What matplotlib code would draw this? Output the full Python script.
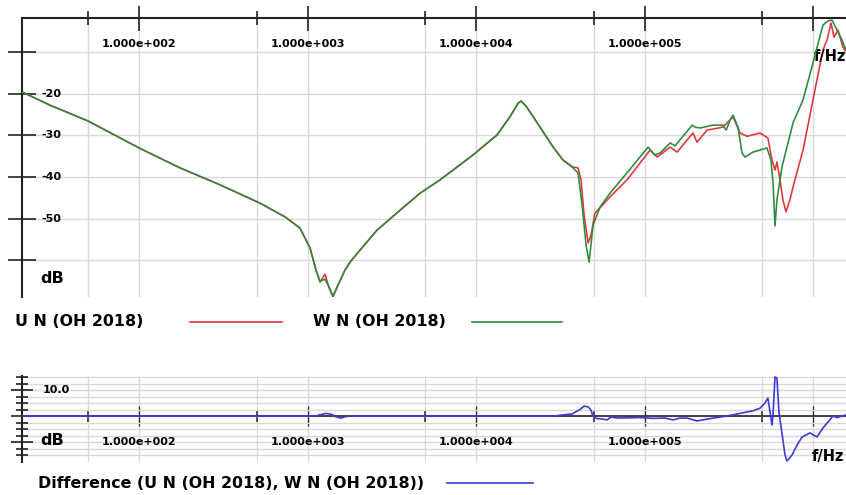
import matplotlib
matplotlib.use("Agg")
import matplotlib.pyplot as plt
from matplotlib.lines import Line2D
from matplotlib.ticker import FixedLocator, NullFormatter
import matplotlib.transforms as mtransforms

# ---------------- data ----------------
# U N (OH 2018): frequency [Hz] / level [dB]
u_freq = [20.2, 29.6, 49.8, 100, 175, 303, 523, 735, 902, 1035, 1122, 1186, 1270, 1342,
          1417, 1517, 1670, 1788, 2050, 2585, 3540, 4656, 6110, 9590, 13300, 15900,
          17800, 18500, 19800, 24000, 28700, 32800, 37600, 40300, 42000, 43800,
          46300, 48100, 50800, 62400, 78700, 108000, 119000, 142000, 156000,
          194000, 205000, 235000, 292000, 335000, 369000, 406000, 485000, 540000,
          571000, 595000, 611000, 637000, 663000, 691000, 730000, 761000, 873000,
          1000000, 1146000, 1211000, 1279000, 1333000, 1407000, 1506000, 1570000]
u_db = [-19.5, -22.7, -26.5, -33.0, -37.8, -41.9, -46.3, -49.6, -52.3, -57.1, -62.4, -65.3,
        -63.4, -66.7, -68.9, -66.0, -62.4, -60.5, -57.6, -52.8, -48.0, -43.9, -40.7,
        -34.7, -29.9, -25.5, -22.2, -21.7, -22.9, -28.0, -32.8, -35.9, -37.6, -37.8,
        -40.7, -49.2, -55.9, -54.0, -48.7, -44.8, -40.7, -33.5, -35.2, -32.8, -34.0,
        -29.4, -31.6, -28.7, -28.0, -25.5, -29.4, -30.2, -29.4, -30.6, -35.9, -38.3,
        -36.4, -40.7, -45.5, -48.4, -45.5, -42.4, -33.5, -21.4, -9.4, -7.0, -2.9,
        -6.3, -4.6, -8.7, -9.9]

# W N (OH 2018): frequency [Hz] / level [dB]
w_freq = [20.2, 29.6, 49.8, 100, 175, 303, 523, 735, 902, 1035, 1122, 1186, 1270, 1342,
          1417, 1517, 1670, 1788, 2050, 2585, 3540, 4656, 6110, 9590, 13300, 15900,
          17800, 18500, 19800, 24000, 28700, 32800, 37600, 40300, 42600, 45000,
          46900, 49500, 54500, 62400, 78700, 94000, 105000, 115000, 124000, 142000,
          152000, 162000, 192000, 200000, 214000, 255000, 292000, 305000, 322000,
          335000, 359000, 379000, 395000, 440000, 533000, 563000, 579000, 595000,
          611000, 654000, 761000, 873000, 1000000, 1146000, 1228000, 1297000,
          1388000, 1486000, 1570000]
w_db = [-19.5, -22.7, -26.5, -33.0, -37.8, -41.9, -46.3, -49.6, -52.3, -57.1, -62.4, -65.1,
        -64.6, -66.5, -68.7, -66.0, -62.4, -60.5, -57.6, -52.8, -48.0, -43.9, -40.7,
        -34.7, -29.9, -25.5, -22.2, -21.7, -22.9, -28.0, -32.8, -35.9, -37.8, -39.0,
        -46.7, -56.4, -60.5, -51.6, -47.2, -43.9, -39.0, -35.2, -32.8, -34.7, -34.2,
        -31.8, -32.5, -31.1, -27.5, -28.0, -28.2, -27.5, -27.5, -28.7, -26.3, -25.1,
        -28.0, -34.2, -35.2, -34.0, -33.0, -35.9, -41.4, -51.8, -45.5, -37.6, -27.0,
        -21.4, -12.5, -3.4, -2.4, -2.2, -4.6, -7.0, -9.4]

# Difference (U N, W N): frequency [Hz] / level [dB]
d_freq = [20.2, 1122, 1186, 1288, 1397, 1476, 1581, 1670, 1788, 29400, 31500, 37200,
          41400, 43800, 46300, 48100, 49400, 52200, 56700, 59900, 63200, 68700,
          94000, 112000, 132000, 148000, 162000, 179000, 205000, 235000, 281000,
          309000, 369000, 440000, 485000, 519000, 540000, 556000, 571000, 579000,
          595000, 611000, 628000, 654000, 682000, 701000, 751000, 804000, 861000,
          960000, 1056000, 1146000, 1228000, 1315000, 1388000, 1570000]
d_db = [0.0, 0.0, 0.5, 1.0, 0.6, -0.3, -0.8, -0.3, 0.0, 0.0, 0.3, 0.8, 2.5, 3.8, 3.5,
        2.3, 0.0, -1.0, -1.2, -1.5, -0.4, -0.8, -0.6, -0.9, -0.8, -1.5, -0.8, -0.8,
        -1.9, -1.2, -0.4, 0.0, 1.0, 2.0, 3.0, 5.0, 6.9, 1.5, -3.5, 0.4, 15.0, 14.6,
        1.5, -6.5, -15.0, -17.3, -15.0, -11.2, -8.1, -6.5, -8.1, -4.6, -2.3, 0.0,
        -0.6, 0.4]

x_major = [1e2, 1e3, 1e4, 1e5, 1e6]
x_minor = [50, 500, 5e3, 5e4, 5e5]
x_labels = ["1.000e+002", "1.000e+003", "1.000e+004", "1.000e+005"]
top_y_ticks = [-10, -20, -30, -40, -50, -60]
top_y_labels = ["-20", "-30", "-40", "-50"]

# ---------------- style ----------------
W, H = 846, 495
FONT = "DejaVu Sans"
RED = "#e2333b"
GREEN = "#2b8a3c"
BLUE = "#3b3bd6"
GRID = "#d9d9d9"
XLIM = (20.2, 1.57e6)
TICK_FS = 8
UNIT_FS = 11.5
FHZ_FS = 10.5
LEGEND_FS = 11.4


def fx(px):
    return px / W


def fy(py):
    return 1 - py / H


fig = plt.figure(figsize=(W / 100, H / 100), dpi=100)
fig.patch.set_facecolor("white")

# ---------------- main response panel ----------------
ax = fig.add_axes([fx(22), fy(297), 1 - fx(22), (297 - 18) / H])
ax.set_xscale("log")
ax.set_xlim(*XLIM)
ax.set_ylim(-68.9, -1.7)
ax.plot(u_freq, u_db, color=RED, lw=1.15, zorder=3)
ax.plot(w_freq, w_db, color=GREEN, lw=1.15, zorder=4)

ax.xaxis.set_major_locator(FixedLocator(x_major))
ax.xaxis.set_minor_locator(FixedLocator(x_minor))
ax.xaxis.set_major_formatter(NullFormatter())
ax.xaxis.set_minor_formatter(NullFormatter())
ax.xaxis.tick_top()
ax.tick_params(axis="x", which="major", direction="inout", length=18, width=1.2,
               color="#222222")
ax.tick_params(axis="x", which="minor", direction="inout", length=10, width=1.2,
               color="#222222")
ax.yaxis.set_major_locator(FixedLocator(top_y_ticks))
ax.yaxis.set_major_formatter(NullFormatter())
ax.tick_params(axis="y", direction="inout", length=20, width=1.2, color="#222222")
ax.grid(True, which="both", color=GRID, lw=1.0, zorder=0)
for s in ("right", "bottom"):
    ax.spines[s].set_visible(False)
for s in ("left", "top"):
    ax.spines[s].set_linewidth(1.5)
    ax.spines[s].set_color("#222222")

tx = mtransforms.blended_transform_factory(ax.transData, ax.transAxes)
ty = mtransforms.blended_transform_factory(ax.transAxes, ax.transData)
for f, lab in zip(x_major, x_labels):
    ax.text(f, (297 - 44) / 279, lab, transform=tx, ha="center", va="center",
            fontsize=TICK_FS, fontweight="bold", family=FONT)
ax.text((814 - 22) / 824, (297 - 57) / 279, "f/Hz", transform=ax.transAxes,
        ha="left", va="center", fontsize=FHZ_FS, fontweight="bold", family=FONT)
for v in top_y_labels:
    ax.text(19 / 824, float(v), v, transform=ty, ha="left", va="center",
            fontsize=TICK_FS, fontweight="bold", family=FONT)
ax.text(18 / 824, -64.4, "dB", transform=ty, ha="left", va="center",
        fontsize=UNIT_FS, fontweight="bold", family=FONT)

# ---------------- difference panel ----------------
ax2 = fig.add_axes([fx(22), fy(461.5), 1 - fx(22), (461.5 - 375.7) / H])
ax2.set_xscale("log")
ax2.set_xlim(*XLIM)
ax2.set_ylim(-17.5, 15.5)
ax2.plot(d_freq, d_db, color=BLUE, lw=1.2, zorder=4)

ax2.xaxis.set_major_locator(FixedLocator(x_major))
ax2.xaxis.set_minor_locator(FixedLocator(x_minor))
ax2.xaxis.set_major_formatter(NullFormatter())
ax2.xaxis.set_minor_formatter(NullFormatter())
ax2.tick_params(axis="x", which="major", direction="inout", length=14, width=1.0,
                color="#333333")
ax2.tick_params(axis="x", which="minor", direction="inout", length=9, width=1.2,
                color="#333333")
ax2.yaxis.set_major_locator(FixedLocator([-10, 0, 10]))
ax2.yaxis.set_minor_locator(FixedLocator([-15, -12.5, -7.5, -5, -2.5, 2.5, 5, 7.5,
                                          12.5, 15]))
ax2.yaxis.set_major_formatter(NullFormatter())
ax2.yaxis.set_minor_formatter(NullFormatter())
ax2.tick_params(axis="y", which="major", direction="inout", length=16, width=1.2,
                color="#222222")
ax2.tick_params(axis="y", which="minor", direction="inout", length=9, width=1.2,
                color="#222222")
ax2.grid(True, which="both", color=GRID, lw=1.0, zorder=0)
ax2.spines["bottom"].set_position(("data", 0))
ax2.spines["bottom"].set_color("#333333")
ax2.spines["bottom"].set_linewidth(1.3)
ax2.spines["bottom"].set_zorder(3)
ax2.spines["left"].set_linewidth(1.5)
ax2.spines["left"].set_color("#222222")
for s in ("right", "top"):
    ax2.spines[s].set_visible(False)

ty2 = mtransforms.blended_transform_factory(ax2.transAxes, ax2.transData)
for f, lab in zip(x_major, x_labels):
    ax2.text(f, -10.0, lab, ha="center", va="center",
             fontsize=TICK_FS, fontweight="bold", family=FONT)
ax2.text((812 - 22) / 824, -15.6, "f/Hz", transform=ty2,
         ha="left", va="center", fontsize=FHZ_FS, fontweight="bold", family=FONT,
         clip_on=False)
ax2.text(21 / 824, 10.0, "10.0", transform=ty2, ha="left", va="center",
         fontsize=TICK_FS, fontweight="bold", family=FONT)
ax2.text(18 / 824, -9.6, "dB", transform=ty2, ha="left", va="center",
         fontsize=UNIT_FS, fontweight="bold", family=FONT)


# ---------------- legend rows ----------------
def legend_item(x_text, x0, x1, y, label, color):
    fig.text(fx(x_text), fy(y), label, ha="left", va="center", fontsize=LEGEND_FS,
             fontweight="bold", family=FONT)
    fig.add_artist(Line2D([fx(x0), fx(x1)], [fy(y), fy(y)], color=color, lw=1.2,
                          transform=fig.transFigure))


legend_item(15, 190, 282, 322, "U N (OH 2018)", RED)
legend_item(313, 472, 562, 322, "W N (OH 2018)", GREEN)
legend_item(38, 447, 533, 483, "Difference (U N (OH 2018), W N (OH 2018))", BLUE)

fig.savefig("out.png", dpi=100, facecolor="white")
